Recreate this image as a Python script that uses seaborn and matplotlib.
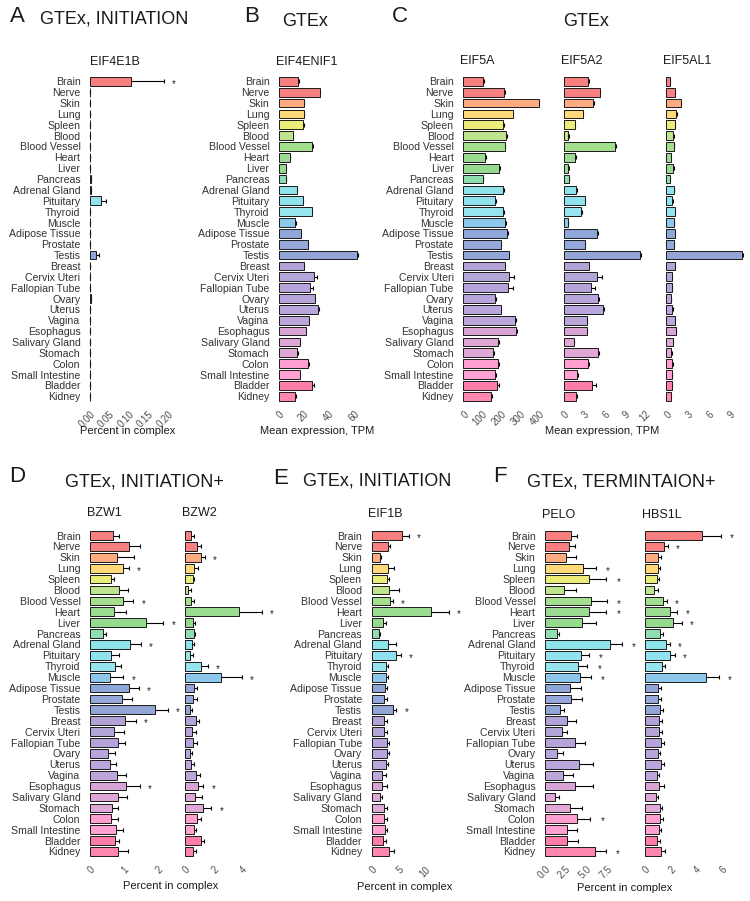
import seaborn as sns
import pandas as pd
import matplotlib
matplotlib.use("Agg")
import matplotlib.pyplot as plt

W, H = 750, 901

tissues = ["Brain", "Nerve", "Skin", "Lung", "Spleen", "Blood", "Blood Vessel", "Heart",
           "Liver", "Pancreas", "Adrenal Gland", "Pituitary", "Thyroid", "Muscle",
           "Adipose Tissue", "Prostate", "Testis", "Breast", "Cervix Uteri", "Fallopian Tube",
           "Ovary", "Uterus", "Vagina", "Esophagus", "Salivary Gland", "Stomach", "Colon",
           "Small Intestine", "Bladder", "Kidney"]

colors = ["#F77F7F", "#F88080", "#FDAB80", "#FDD97A", "#EBEC7A", "#BEE48F", "#A4DE8F", "#9CDB92",
          "#97D98E", "#90DDB0", "#8EE2EA", "#90E3EE", "#95E4EE", "#8DC8EC", "#8FA6D8", "#95A8D9",
          "#93A4D6", "#B2A2D6", "#B4A5D8", "#B5A3D9", "#B7A5DC", "#B9A6DC", "#BDA6DA", "#D8A3D5",
          "#DFA7D6", "#DFA8D6", "#FF9ECF", "#FFA2D3", "#FF7DAA", "#FF86AF"]

# A: EIF4E1B, percent in complex
eif4e1b = [0.105, 0, 0, 0, 0.001, 0, 0, 0, 0, 0.002, 0.002, 0.029, 0, 0, 0, 0, 0.016, 0, 0, 0,
           0.002, 0, 0, 0, 0, 0, 0, 0, 0, 0]
eif4e1b_sd = [0.085, 0, 0, 0, 0, 0, 0, 0, 0, 0, 0, 0.012, 0, 0, 0, 0, 0.006, 0, 0, 0,
              0, 0, 0, 0, 0, 0, 0, 0, 0, 0]
eif4e1b_sig = ["Brain"]

# B: EIF4ENIF1, TPM
eif4enif1 = [15.5, 32.5, 20, 20, 19.5, 11, 26.5, 8.7, 5.2, 5.7, 14, 18.8, 26, 13, 17.3, 23, 62,
             19.7, 28, 25, 28.5, 31, 23.7, 21.5, 16.4, 14.7, 23.3, 16.7, 26.5, 12.4]
eif4enif1_sd = [0.3, 0.5, 0.3, 0.3, 0.3, 0.2, 0.3, 0.2, 0.1, 0.1, 0.3, 0.4, 0.4, 0.2, 0.3, 0.4,
                0.8, 0.4, 2.0, 2.0, 0.6, 0.6, 0.5, 0.4, 0.4, 0.3, 0.5, 0.4, 1.5, 0.8]

# C: EIF5A family, TPM
eif5a = [105, 214, 396, 260, 211, 223, 218, 116, 189, 104, 209, 168, 211, 221, 232, 196, 239,
         218, 240, 233, 168, 196, 270, 275, 182, 156, 184, 167, 179, 144]
eif5a_sd = [2, 4, 5, 4, 3, 8, 3, 2, 4, 2, 4, 3, 3, 4, 4, 4, 4, 4, 27, 30, 3, 4, 5, 5, 4, 3, 4,
            3, 10, 5]
eif5a2 = [3.6, 5.3, 4.4, 2.8, 1.6, 0.7, 7.6, 1.7, 0.7, 0.8, 1.8, 3.1, 2.6, 0.6, 4.9, 3.1, 11.2,
          3.7, 4.9, 4.0, 5.1, 5.8, 3.4, 3.4, 1.5, 5.1, 3.6, 2.0, 4.2, 1.8]
eif5a2_sd = [0.1, 0.1, 0.1, 0.1, 0.05, 0.05, 0.1, 0.05, 0.05, 0.05, 0.1, 0.1, 0.1, 0.03, 0.1,
             0.1, 0.15, 0.1, 0.7, 0.6, 0.1, 0.1, 0.1, 0.1, 0.05, 0.1, 0.1, 0.1, 0.5, 0.1]
eif5al1 = [0.5, 1.2, 2.0, 1.4, 1.2, 1.0, 1.1, 0.6, 1.0, 0.5, 1.1, 0.85, 1.2, 1.1, 1.2, 1.1, 10.6,
           1.2, 0.75, 0.75, 0.65, 0.85, 1.2, 1.3, 0.9, 0.7, 0.85, 0.8, 0.75, 0.6]
eif5al1_sd = [0.05] * 16 + [0.2] + [0.05] * 13

# D: BZW1 / BZW2
bzw1 = [0.69, 1.16, 0.80, 0.97, 0.61, 0.87, 0.97, 0.72, 1.67, 0.40, 1.19, 0.61, 0.75, 0.59,
        1.15, 0.96, 1.92, 1.05, 0.70, 0.82, 0.54, 0.60, 0.81, 1.06, 0.84, 0.64, 0.63, 0.78,
        0.73, 0.84]
bzw1_sd = [0.17, 0.33, 0.50, 0.18, 0.11, 0.26, 0.32, 0.35, 0.51, 0.08, 0.31, 0.25, 0.16, 0.40,
           0.29, 0.29, 0.38, 0.31, 0.32, 0.23, 0.20, 0.17, 0.26, 0.41, 0.25, 0.18, 0.21, 0.20,
           0.14, 0.28]
bzw1_sig = ["Lung", "Blood Vessel", "Liver", "Adrenal Gland", "Muscle", "Adipose Tissue",
            "Testis", "Breast", "Esophagus"]
bzw2 = [0.45, 0.87, 1.13, 0.64, 0.54, 0.24, 0.45, 3.81, 0.54, 0.66, 0.52, 0.38, 1.13, 2.54,
        0.66, 0.59, 0.35, 0.78, 0.52, 0.56, 0.33, 0.42, 0.80, 0.94, 0.73, 1.27, 0.87, 0.66,
        1.11, 0.59]
bzw2_sd = [0.21, 0.26, 0.26, 0.28, 0.12, 0.16, 0.16, 1.60, 0.14, 0.07, 0.12, 0.16, 0.47, 1.48,
           0.21, 0.28, 0.14, 0.18, 0.23, 0.26, 0.14, 0.22, 0.24, 0.35, 0.49, 0.59, 0.26, 0.12,
           0.23, 0.19]
bzw2_sig = ["Skin", "Heart", "Thyroid", "Muscle", "Esophagus", "Stomach"]

# E: EIF1B
eif1b = [5.7, 3.0, 1.5, 3.0, 2.8, 3.15, 3.4, 11.05, 2.1, 1.36, 3.0, 4.5, 2.7, 2.65, 2.5, 2.4,
         3.95, 2.4, 2.3, 2.9, 2.9, 2.7, 2.0, 2.0, 1.55, 2.4, 2.4, 2.45, 2.15, 3.3]
eif1b_sd = [1.2, 0.5, 0.35, 1.2, 0.35, 1.95, 0.55, 3.35, 0.5, 0.2, 1.5, 0.9, 0.4, 0.45, 0.45,
            0.5, 0.65, 0.5, 0.5, 0.3, 0.4, 0.3, 0.65, 0.9, 0.35, 0.5, 0.5, 0.45, 0.45, 0.8]
eif1b_sig = ["Brain", "Blood Vessel", "Heart", "Pituitary", "Testis"]

# F: PELO / HBS1L
pelo = [3.13, 2.89, 2.53, 4.62, 5.30, 2.29, 5.58, 5.34, 4.42, 1.45, 7.87, 4.34, 3.98, 4.26,
        3.05, 3.17, 1.85, 2.69, 2.09, 3.65, 1.41, 4.06, 2.13, 3.61, 1.20, 2.97, 3.86, 2.69,
        2.61, 6.06]
pelo_sd = [0.69, 0.76, 1.25, 1.48, 2.09, 1.49, 1.89, 2.05, 1.68, 0.28, 1.41, 0.92, 1.12, 1.28,
           1.29, 1.33, 0.44, 1.09, 0.60, 1.21, 0.76, 1.72, 1.28, 2.21, 0.45, 1.45, 1.60, 1.17,
           1.37, 1.25]
pelo_sig = ["Lung", "Spleen", "Blood Vessel", "Heart", "Adrenal Gland", "Pituitary", "Thyroid",
            "Muscle", "Colon", "Kidney"]
hbs1l = [4.45, 1.51, 1.04, 0.99, 0.91, 0.68, 1.43, 1.98, 2.21, 1.17, 1.67, 1.98, 1.33, 4.74,
         1.04, 1.04, 1.17, 1.12, 1.09, 1.28, 0.99, 1.28, 0.91, 1.12, 0.83, 1.20, 1.17, 1.07,
         0.94, 1.28]
hbs1l_sd = [1.51, 0.26, 0.21, 0.18, 0.16, 0.36, 0.26, 0.55, 0.68, 0.21, 0.28, 0.36, 0.23, 1.07,
            0.18, 0.21, 0.21, 0.18, 0.24, 0.20, 0.18, 0.23, 0.18, 0.39, 0.21, 0.15, 0.24, 0.18,
            0.23, 0.26]
hbs1l_sig = ["Brain", "Nerve", "Blood Vessel", "Heart", "Liver", "Adrenal Gland", "Pituitary",
             "Muscle"]

sns.set_style("white")
plt.rcParams["font.family"] = ["Liberation Sans", "DejaVu Sans"]

fig = plt.figure(figsize=(7.5, 9.01), dpi=100)


def ftext(x, y, s, **kw):
    fig.text(x / W, 1 - y / H, s, **kw)


def panel(x0, k, xr, top_row, vals, sds, ticks, ticklabels, sig=(), labels=False, star_px=10):
    # x0 = pixel of zero, k = pixels per unit, xr = right edge in pixels
    pad = 4
    top, bot = (74.8, 402.8) if top_row else (529.0, 858.0)
    ax = fig.add_axes([(x0 - pad) / W, 1 - bot / H, (xr - x0 + pad) / W, (bot - top) / H])
    df = pd.DataFrame({"tissue": tissues, "value": vals})
    ax.errorbar(vals, list(range(len(tissues))), xerr=sds, fmt="none", ecolor="black",
                elinewidth=0.8, capsize=1.6, capthick=0.8, zorder=0.5)
    sns.barplot(data=df, x="value", y="tissue", hue="tissue", palette=colors, legend=False,
                order=tissues, hue_order=tissues, width=0.8, edgecolor="#1a1a1a",
                linewidth=0.7, saturation=1, errorbar=None, ax=ax)
    ax.set_xlim(-pad / k, (xr - x0) / k)
    ax.set_ylim(len(tissues) - 0.4, -0.6)
    for name in sig:
        i = tissues.index(name)
        ax.text(vals[i] + sds[i] + star_px / k, i + 0.25, "*", ha="center", va="center",
                fontsize=7, color="#222222", clip_on=False)
    ax.set_xticks(ticks)
    ax.set_xticklabels(ticklabels, rotation=45, ha="right", va="top", rotation_mode="anchor")
    ax.set_xlabel("")
    ax.set_ylabel("")
    for s in ax.spines.values():
        s.set_visible(False)
    ax.tick_params(axis="both", length=2.5, width=0.6, color="#333333", labelsize=7.6,
                   labelcolor="#333333", pad=1.5)
    ax.tick_params(axis="x", labelcolor="#4d4d4d", labelsize=6.9, pad=2)
    if not labels:
        ax.tick_params(axis="y", labelleft=False)
    return ax


# top row
panel(90, 390, 183, True, eif4e1b, eif4e1b_sd, [0, 0.05, 0.1, 0.15, 0.2],
      ["0.00", "0.05", "0.10", "0.15", "0.20"], eif4e1b_sig, labels=True)
panel(279, 1.25, 365, True, eif4enif1, eif4enif1_sd, [0, 20, 40, 60],
      ["0", "20", "40", "60"], labels=True)
panel(463.3, 0.19, 548, True, eif5a, eif5a_sd, [0, 100, 200, 300, 400],
      ["0", "100", "200", "300", "400"], labels=True)
panel(563.7, 6.77, 650, True, eif5a2, eif5a2_sd, [0, 3, 6, 9, 12],
      ["0", "3", "6", "9", "12"])
panel(666.3, 7.1, 745, True, eif5al1, eif5al1_sd, [0, 3, 6, 9], ["0", "3", "6", "9"])

# bottom row
panel(90, 33.7, 176, False, bzw1, bzw1_sd, [0, 1, 2], ["0", "1", "2"], bzw1_sig, labels=True)
panel(185, 14.2, 275, False, bzw2, bzw2_sd, [0, 2, 4], ["0", "2", "4"], bzw2_sig)
panel(371.5, 5.4, 462, False, eif1b, eif1b_sd, [0, 5, 10], ["0", "5", "10"], eif1b_sig,
      labels=True)
panel(545, 8.3, 628, False, pelo, pelo_sd, [0, 2.5, 5, 7.5], ["0.0", "2.5", "5.0", "7.5"],
      pelo_sig, labels=True, star_px=12)
panel(645, 12.8, 742, False, hbs1l, hbs1l_sd, [0, 2, 4, 6], ["0", "2", "4", "6"], hbs1l_sig)

# panel letters and headers
hdr = dict(fontsize=13, color="#1a1a1a", va="center")
let = dict(fontsize=16, color="#1a1a1a", va="center")
ftext(10, 17, "A", ha="left", **let)
ftext(40, 19, "GTEx, INITIATION", ha="left", **hdr)
ftext(244, 17, "B", ha="left", **let)
ftext(305, 21, "GTEx", ha="center", **hdr)
ftext(392, 16, "C", ha="left", **let)
ftext(586, 21, "GTEx", ha="center", **hdr)
ftext(9, 477, "D", ha="left", **let)
ftext(65, 482, "GTEx, INITIATION+", ha="left", **hdr)
ftext(273, 478, "E", ha="left", **let)
ftext(303, 481, "GTEx, INITIATION", ha="left", **hdr)
ftext(493, 476, "F", ha="left", **let)
ftext(527, 482, "GTEx, TERMINTAION+", ha="left", **hdr)

# gene titles
ttl = dict(fontsize=9, color="#1a1a1a", ha="center", va="center")
for name, x, y in [("EIF4E1B", 115, 62), ("EIF4ENIF1", 307, 62), ("EIF5A", 477, 61),
                   ("EIF5A2", 582, 61), ("EIF5AL1", 687, 61), ("BZW1", 104, 513),
                   ("BZW2", 199, 513), ("EIF1B", 385, 514), ("PELO", 559, 515),
                   ("HBS1L", 662, 515)]:
    ftext(x, y, name, **ttl)

# axis titles
xl = dict(fontsize=8, color="#1a1a1a", ha="center", va="center")
ftext(128, 431, "Percent in complex", **xl)
ftext(317, 431, "Mean expression, TPM", **xl)
ftext(602, 431, "Mean expression, TPM", **xl)
ftext(171, 886, "Percent in complex", **xl)
ftext(405, 887, "Percent in complex", **xl)
ftext(625, 888, "Percent in complex", **xl)

fig.savefig("out.png", dpi=100)
